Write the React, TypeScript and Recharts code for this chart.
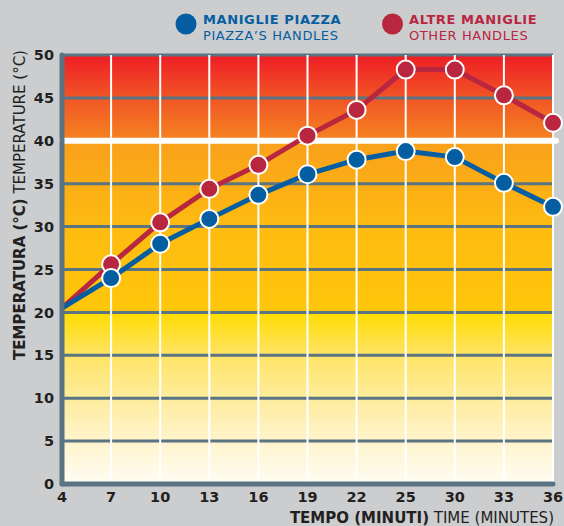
import React from 'react';
import { LineChart, Line, XAxis, YAxis, CartesianGrid, ReferenceLine, Label } from 'recharts';

const xLabels = ['4', '7', '10', '13', '16', '19', '22', '25', '30', '33', '36'];
const piazzaValues = [20.5, 24.0, 28.0, 30.9, 33.7, 36.1, 37.8, 38.8, 38.1, 35.1, 32.3];
const altreValues = [20.5, 25.6, 30.5, 34.4, 37.2, 40.6, 43.6, 48.3, 48.3, 45.3, 42.1];
const yTicks = [0, 5, 10, 15, 20, 25, 30, 35, 40, 45, 50];

const data = xLabels.map((t, i) => ({ t, piazza: piazzaValues[i], altre: altreValues[i] }));

const FONT = '"DejaVu Sans", sans-serif';
const BLUE = '#055ea1';
const RED = '#b8263f';
const GRID = '#5a7484';
const TEXT = '#231f20';

const makeDot = (color: string) => (props: any) => {
  const { cx, cy, index } = props;
  if (index === 0 || cx == null || cy == null) return <g key={`d-${color}-${index}`} />;
  return <circle key={`d-${color}-${index}`} cx={cx} cy={cy} r={9} fill={color} stroke="#ffffff" strokeWidth={2} />;
};

const WhiteLine = (props: any) => {
  const { x1, y1, x2, y2 } = props;
  return <line x1={x1} y1={y1} x2={x2 + 3} y2={y2} stroke="#ffffff" strokeWidth={6} strokeLinecap="round" />;
};

export default function App() {
  return (
    <div style={{ position: 'absolute', left: 0, top: 0, width: 564, height: 526, background: '#cccdcf', fontFamily: FONT }}>
      <LineChart width={564} height={526} data={data} margin={{ top: 55, right: 11, left: 0, bottom: 0 }}>
        <defs>
          <linearGradient id="bg" x1="0" y1="0" x2="0" y2="1">
            <stop offset="0" stopColor="#ee1d25" />
            <stop offset="0.1" stopColor="#f15526" />
            <stop offset="0.2" stopColor="#f58420" />
            <stop offset="0.2" stopColor="#f9a01b" />
            <stop offset="0.4" stopColor="#febb11" />
            <stop offset="0.6" stopColor="#ffc70b" />
            <stop offset="0.6" stopColor="#ffdb00" />
            <stop offset="0.7" stopColor="#ffe466" />
            <stop offset="0.8" stopColor="#feec9c" />
            <stop offset="0.9" stopColor="#fff4cc" />
            <stop offset="1" stopColor="#fffdf4" />
          </linearGradient>
        </defs>
        <CartesianGrid horizontal={true} vertical={false} fill="url(#bg)" fillOpacity={1} stroke={GRID} strokeWidth={3} />
        <CartesianGrid horizontal={false} vertical={true} stroke="#ffffff" strokeWidth={2} />
        <XAxis
          dataKey="t"
          type="category"
          height={42}
          tickLine={false}
          tickSize={0}
          tickMargin={8}
          interval={0}
          axisLine={{ stroke: GRID, strokeWidth: 5, strokeLinecap: 'round' }}
          tick={{ fill: TEXT, fontSize: 14.5, fontWeight: 700, fontFamily: FONT }}
        >
          <Label
            content={() => (
              <text x={554} y={523} textAnchor="end" fontFamily={FONT} fontSize={15} fill={TEXT}>
                <tspan fontWeight={700}>TEMPO (MINUTI)</tspan>
                <tspan fontWeight={400}> TIME (MINUTES)</tspan>
              </text>
            )}
          />
        </XAxis>
        <YAxis
          type="number"
          domain={[0, 50]}
          ticks={yTicks}
          width={62}
          tickLine={false}
          tickSize={0}
          tickMargin={8}
          interval={0}
          axisLine={{ stroke: GRID, strokeWidth: 5, strokeLinecap: 'round' }}
          tick={{ fill: TEXT, fontSize: 14.5, fontWeight: 700, fontFamily: FONT }}
        >
          <Label
            content={() => (
              <text x={25} y={205} transform="rotate(-90 25 205)" textAnchor="middle" fontFamily={FONT} fontSize={15} fill={TEXT}>
                <tspan fontWeight={700}>TEMPERATURA (°C)</tspan>
                <tspan fontWeight={400}> TEMPERATURE (°C)</tspan>
              </text>
            )}
          />
        </YAxis>
        <ReferenceLine y={40} shape={WhiteLine} />
        <Line
          type="linear"
          dataKey="altre"
          stroke={RED}
          strokeWidth={5}
          dot={makeDot(RED)}
          activeDot={false}
          isAnimationActive={false}
        />
        <Line
          type="linear"
          dataKey="piazza"
          stroke={BLUE}
          strokeWidth={5}
          dot={makeDot(BLUE)}
          activeDot={false}
          isAnimationActive={false}
        />
      </LineChart>
      <svg width={564} height={50} style={{ position: 'absolute', left: 0, top: 0, pointerEvents: 'none' }}>
        <circle cx={186} cy={24} r={10.5} fill={BLUE} />
        <text x={203} y={24} fontFamily={FONT} fontSize={13} letterSpacing={0.6} fill={BLUE}>
          <tspan x={203} y={24} fontWeight={700}>MANIGLIE PIAZZA</tspan>
          <tspan x={203} y={39.5} fontWeight={400}>PIAZZA’S HANDLES</tspan>
        </text>
        <circle cx={392.5} cy={24} r={10.5} fill={RED} />
        <text x={409} y={24} fontFamily={FONT} fontSize={13} letterSpacing={0.6} fill={RED}>
          <tspan x={409} y={24} fontWeight={700}>ALTRE MANIGLIE</tspan>
          <tspan x={409} y={39.5} fontWeight={400}>OTHER HANDLES</tspan>
        </text>
      </svg>
    </div>
  );
}
